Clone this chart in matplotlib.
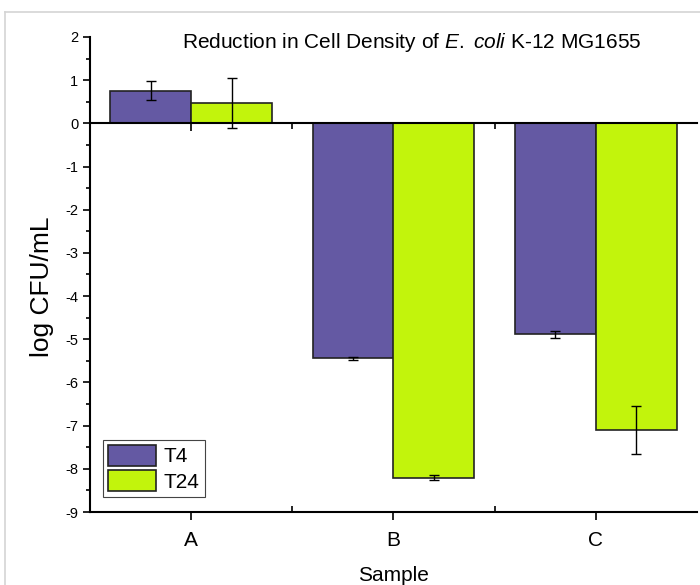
import numpy as np
import matplotlib
matplotlib.use("Agg")
import matplotlib.pyplot as plt
from matplotlib.lines import Line2D
from matplotlib.ticker import FixedLocator

plt.rcParams['font.family'] = ['Liberation Sans', 'DejaVu Sans']
plt.rcParams['axes.unicode_minus'] = False
plt.rcParams['mathtext.fontset'] = 'custom'
plt.rcParams['mathtext.rm'] = 'Liberation Sans'
plt.rcParams['mathtext.it'] = 'Liberation Sans:italic'

# data
samples = ['A', 'B', 'C']
t4_vals = [0.76, -5.44, -4.88]
t4_err = [0.23, 0.03, 0.08]
t24_vals = [0.47, -8.21, -7.10]
t24_err = [0.57, 0.06, 0.56]

c_t4 = '#6459A3'
c_t24 = '#C2F40C'

fig = plt.figure(figsize=(7, 5.85), dpi=100)
ax = fig.add_axes([90/700, 1 - 512/585, 607/700, 475/585])

x = np.arange(1, len(samples) + 1)
w = 0.4
ax.bar(x - w/2, t4_vals, w, color=c_t4, edgecolor='#222222', linewidth=1.2,
       yerr=t4_err, error_kw=dict(ecolor='black', elinewidth=1, capsize=3.5, capthick=1),
       label='T4', zorder=2)
ax.bar(x + w/2, t24_vals, w, color=c_t24, edgecolor='#222222', linewidth=1.2,
       yerr=t24_err, error_kw=dict(ecolor='black', elinewidth=1, capsize=3.5, capthick=1),
       label='T24', zorder=2)

ax.set_xlim(0.5, 3.5)
ax.set_ylim(-9, 2)

# spines: top spine becomes the zero line
ax.spines['right'].set_visible(False)
ax.spines['top'].set_position(('data', 0))
for s in ['left', 'bottom', 'top']:
    ax.spines[s].set_linewidth(1.5)
    ax.spines[s].set_color('black')
    ax.spines[s].set_zorder(3)

ax.set_yticks(np.arange(-9, 3, 1))
ax.yaxis.set_minor_locator(FixedLocator(np.arange(-8.5, 2, 1)))
ax.tick_params(axis='y', which='major', direction='out', length=5, width=1.2, labelsize=10.5)
ax.tick_params(axis='y', which='minor', direction='out', length=3, width=1.2)

ax.set_xticks(x)
ax.set_xticklabels(samples)
ax.xaxis.set_minor_locator(FixedLocator([1.5, 2.5]))
ax.tick_params(axis='x', which='major', bottom=True, top=True, labeltop=False,
               length=6, width=1.2, labelsize=15, pad=8)
ax.tick_params(axis='x', which='major', direction='out')
ax.tick_params(axis='x', which='minor', bottom=True, top=True, direction='in', length=4, width=1.2)
for t in ax.xaxis.get_major_ticks():
    t.tick2line.set_marker(3)  # top ticks point down at the zero line

ax.set_xlabel('Sample', fontsize=15, labelpad=11)
ax.set_ylabel('log CFU/mL', fontsize=19)
ax.yaxis.set_label_coords(-0.06, 0.474)

fig.text(412/700, 1 - 42/585, r'Reduction in Cell Density of $\it{E.}$ $\it{coli}$ K-12 MG1655',
         ha='center', va='center', fontsize=15)

leg = ax.legend(loc='lower left', bbox_to_anchor=(13/607, 15/475), fontsize=15,
                frameon=True, fancybox=False, edgecolor='#444444', framealpha=1,
                handlelength=2.3, handleheight=1.15, handletextpad=0.35,
                borderpad=0.25, labelspacing=0.2, borderaxespad=0)
leg.get_frame().set_linewidth(0.8)

# light page border (top and left edges only show)
fig.add_artist(Line2D([5/700, 1], [1 - 12/585] * 2, transform=fig.transFigure,
                      color='#d4d4d4', linewidth=1.2))
fig.add_artist(Line2D([5/700] * 2, [0, 1 - 12/585], transform=fig.transFigure,
                      color='#d4d4d4', linewidth=1.2))

fig.savefig('out.png', dpi=100)
